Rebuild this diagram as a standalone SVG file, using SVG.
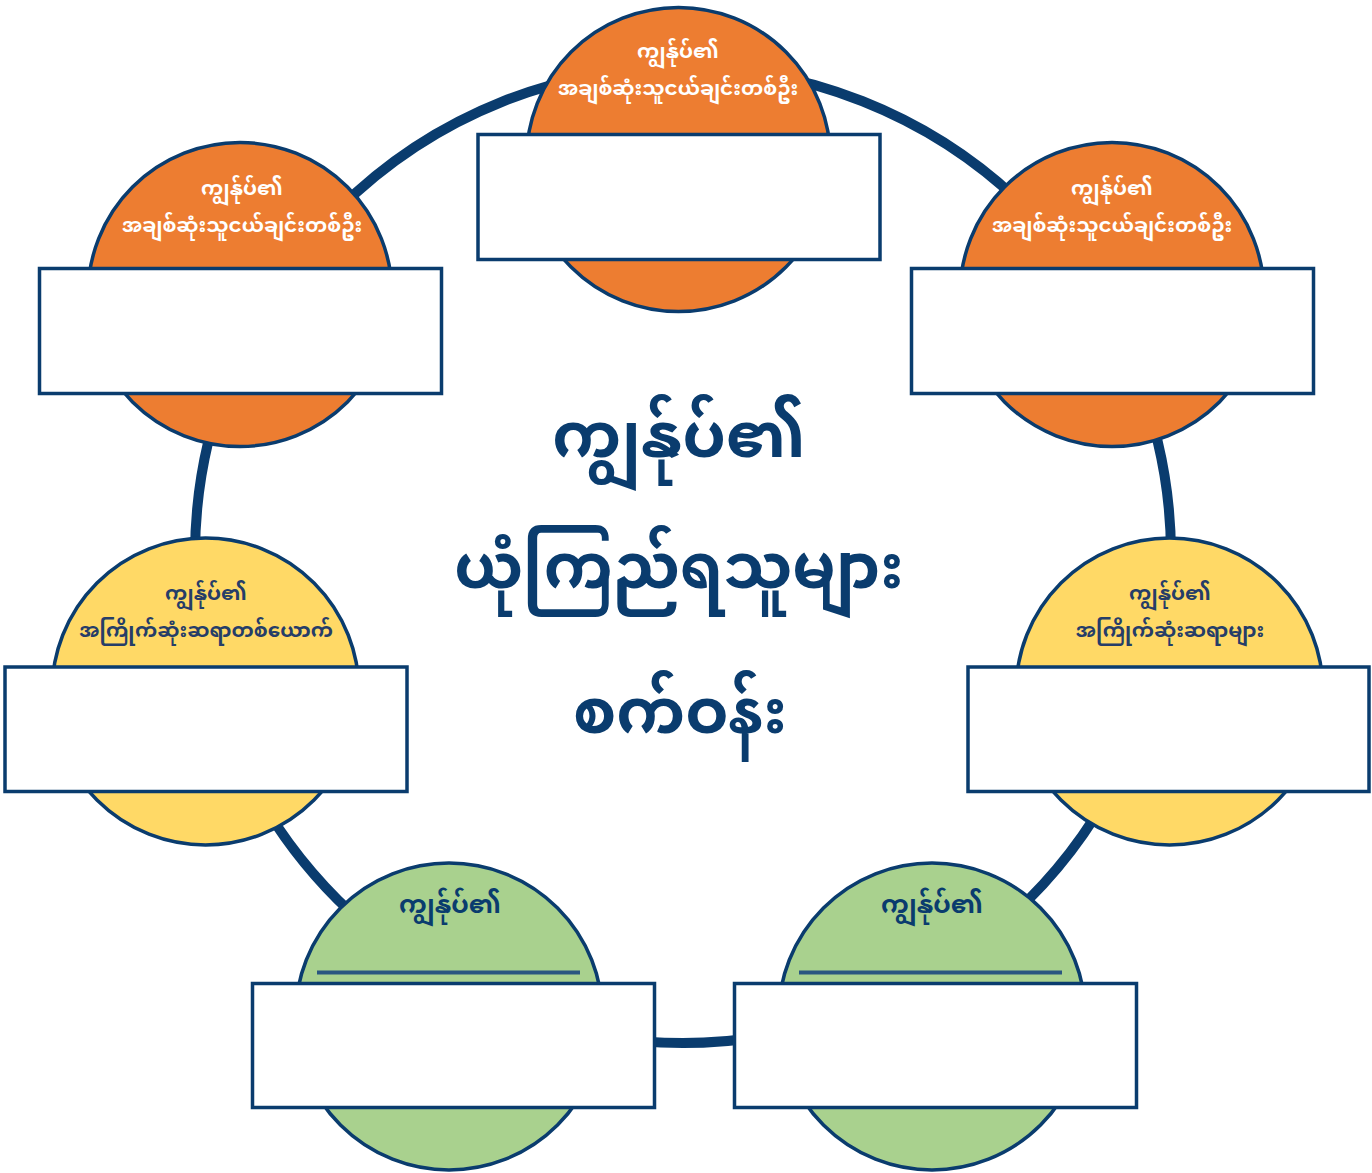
<svg xmlns="http://www.w3.org/2000/svg" width="1372" height="1173" viewBox="0 0 1372 1173">
<style>
.ring{fill:none;stroke:#0a3c6e;stroke-width:10}
.c{stroke:#0a3c6e;stroke-width:3.5}
.or{fill:#ed7d31}
.ye{fill:#ffd966}
.gr{fill:#a9d18e}
.box{fill:#ffffff;stroke:#0a3c6e;stroke-width:3.5}
.t{font-family:"Noto Sans Myanmar","Padauk","Myanmar Text","Noto Sans",sans-serif;font-weight:bold;text-anchor:middle}
.w{fill:#ffffff;font-size:20px}
.d{fill:#263d68;font-size:20px}
.g{fill:#0a3c6e;font-size:25px}
.title{fill:#0a3c6e;font-size:62px}
.ul{stroke:#2a5680;stroke-width:4}
</style>
<g id="connectors">
<circle class="ring" cx="683" cy="555" r="488"/>
</g>
<g id="node-top">
<circle class="c or" cx="678.5" cy="159.5" r="152"/>
<text class="t w" x="678" y="58">ကျွန်ုပ်၏</text>
<text class="t w" x="678" y="95">အချစ်ဆုံးသူငယ်ချင်းတစ်ဦး</text>
<rect class="box" x="478" y="134.5" width="402" height="125"/>
</g>
<g id="node-top-left">
<circle class="c or" cx="240" cy="294.5" r="152"/>
<text class="t w" x="242" y="195">ကျွန်ုပ်၏</text>
<text class="t w" x="242" y="232">အချစ်ဆုံးသူငယ်ချင်းတစ်ဦး</text>
<rect class="box" x="39.5" y="268.5" width="402" height="125"/>
</g>
<g id="node-top-right">
<circle class="c or" cx="1112" cy="294.5" r="152"/>
<text class="t w" x="1112" y="195">ကျွန်ုပ်၏</text>
<text class="t w" x="1112" y="232">အချစ်ဆုံးသူငယ်ချင်းတစ်ဦး</text>
<rect class="box" x="911.5" y="268.5" width="402" height="125"/>
</g>
<g id="node-left">
<circle class="c ye" cx="205.5" cy="691.5" r="153.5"/>
<text class="t d" x="206" y="600">ကျွန်ုပ်၏</text>
<text class="t d" x="206" y="637">အကြိုက်ဆုံးဆရာတစ်ယောက်</text>
<rect class="box" x="5" y="667" width="402" height="124.5"/>
</g>
<g id="node-right">
<circle class="c ye" cx="1169.5" cy="691.5" r="153.5"/>
<text class="t d" x="1170" y="600">ကျွန်ုပ်၏</text>
<text class="t d" x="1170" y="637">အကြိုက်ဆုံးဆရာများ</text>
<rect class="box" x="968" y="667" width="401" height="124.5"/>
</g>
<g id="node-bottom-left">
<circle class="c gr" cx="449" cy="1016.5" r="153.5"/>
<text class="t g" x="450" y="913">ကျွန်ုပ်၏</text>
<line class="ul" x1="317" y1="972.5" x2="580" y2="972.5"/>
<rect class="box" x="252.5" y="983.5" width="402" height="124"/>
</g>
<g id="node-bottom-right">
<circle class="c gr" cx="932" cy="1016.5" r="153.5"/>
<text class="t g" x="932" y="913">ကျွန်ုပ်၏</text>
<line class="ul" x1="799" y1="972.5" x2="1062" y2="972.5"/>
<rect class="box" x="734.5" y="983.5" width="402" height="124"/>
</g>
<g id="center-title">
<text class="t title" x="679" y="457">ကျွန်ုပ်၏</text>
<text class="t title" x="679" y="588">ယုံကြည်ရသူများ</text>
<text class="t title" x="680" y="733">စက်ဝန်း</text>
</g>
</svg>
